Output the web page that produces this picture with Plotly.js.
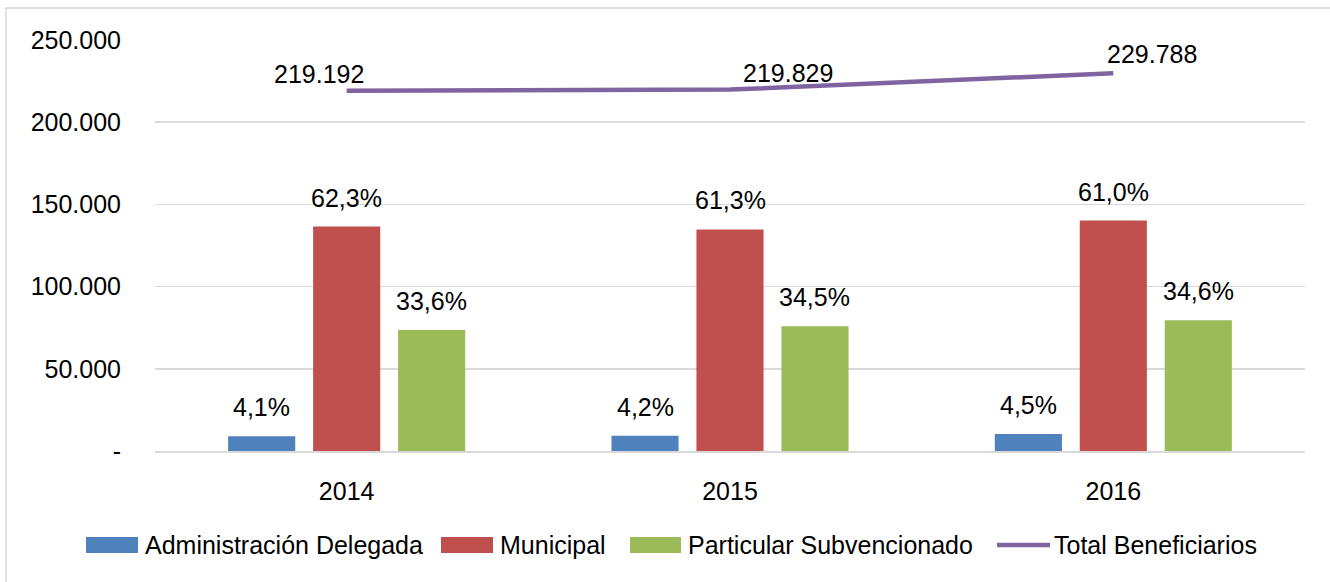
<!DOCTYPE html>
<html>
<head>
<meta charset="utf-8">
<script src="https://cdn.plot.ly/plotly-3.0.1.min.js"></script>
<style>html,body{margin:0;padding:0;background:#fff;}#chart{width:1330px;height:582px;}</style>
</head>
<body>
<div id="chart"></div>
<script>
const years = ['2014', '2015', '2016'];
const adminDelegada = [8987, 9233, 10340];
const municipal = [136557, 134755, 140171];
const particular = [73648, 75841, 79507];
const total = [219192, 219829, 229788];
const pctAdmin = ['4,1%', '4,2%', '4,5%'];
const pctMunicipal = ['62,3%', '61,3%', '61,0%'];
const pctParticular = ['33,6%', '34,5%', '34,6%'];
const totalLabels = ['219.192', '219.829', '229.788'];
const seriesNames = ['Administración Delegada', 'Municipal', 'Particular Subvencionado', 'Total Beneficiarios'];
const seriesColors = ['#4F81BD', '#C0504D', '#9BBB59', '#8064A2'];
const yTickVals = [0, 50000, 100000, 150000, 200000, 250000];
const yTickText = ['-', '50.000', '100.000', '150.000', '200.000', '250.000'];

const FONT = 'Liberation Sans, Arial, sans-serif';
const FS = 25;
const W = 1330, H = 582;
const margin = {l: 155, r: 25, t: 40, b: 131, pad: 0};
const plotW = W - margin.l - margin.r;
const plotH = H - margin.t - margin.b;
const bargap = 0.335;
const slot = plotW / years.length * (1 - bargap) / 3;
const px = x => (x - margin.l) / plotW;          // pixel x -> paper
const py = y => (margin.t + plotH - y) / plotH;   // pixel y -> paper

const traces = [
  {type: 'bar', name: seriesNames[0], x: years, y: adminDelegada, marker: {color: seriesColors[0]}, hoverinfo: 'none'},
  {type: 'bar', name: seriesNames[1], x: years, y: municipal, marker: {color: seriesColors[1]}, hoverinfo: 'none'},
  {type: 'bar', name: seriesNames[2], x: years, y: particular, marker: {color: seriesColors[2]}, hoverinfo: 'none'},
  {type: 'scatter', mode: 'lines', name: seriesNames[3], x: years, y: total, line: {color: seriesColors[3], width: 4.5}, hoverinfo: 'none'}
];

const annotations = [];
const barSeries = [[adminDelegada, pctAdmin, -1], [municipal, pctMunicipal, 0], [particular, pctParticular, 1]];
barSeries.forEach(([vals, labels, k]) => {
  years.forEach((yr, i) => {
    annotations.push({x: i, y: vals[i], text: labels[i], showarrow: false, xshift: k * slot, yshift: 29,
      yanchor: 'middle', xanchor: 'center', font: {family: FONT, size: FS, color: '#000'}});
  });
});
const totXShift = [-28, 58, 39];
const totYShift = [17, 17, 19];
years.forEach((yr, i) => {
  annotations.push({x: i, y: total[i], text: totalLabels[i], showarrow: false, xshift: totXShift[i], yshift: totYShift[i],
    yanchor: 'middle', xanchor: 'center', font: {family: FONT, size: FS, color: '#000'}});
});

// custom legend (layout only)
const legendY = 545;
const legendItems = [
  {kind: 'rect', x0: 86, x1: 138, tx: 143},
  {kind: 'rect', x0: 441, x1: 493, tx: 498},
  {kind: 'rect', x0: 630, x1: 681, tx: 686},
  {kind: 'line', x0: 997, x1: 1050, tx: 1052}
];
const shapes = [{type: 'rect', xref: 'paper', yref: 'paper', x0: px(6), x1: 1.05, y0: -0.4, y1: py(8),
  line: {color: '#D9D9D9', width: 1.5}, fillcolor: 'rgba(0,0,0,0)', layer: 'below'}];
legendItems.forEach((it, k) => {
  if (it.kind === 'rect') {
    shapes.push({type: 'rect', xref: 'paper', yref: 'paper', x0: px(it.x0), x1: px(it.x1), y0: py(legendY + 8), y1: py(legendY - 8),
      fillcolor: seriesColors[k], line: {width: 0}});
  } else {
    shapes.push({type: 'line', xref: 'paper', yref: 'paper', x0: px(it.x0), x1: px(it.x1), y0: py(legendY), y1: py(legendY),
      line: {color: seriesColors[k], width: 4.5}});
  }
  annotations.push({xref: 'paper', yref: 'paper', x: px(it.tx), y: py(legendY), text: seriesNames[k], showarrow: false,
    xanchor: 'left', yanchor: 'middle', font: {family: FONT, size: FS, color: '#000'}});
});

const layout = {
  width: W, height: H,
  margin: margin,
  paper_bgcolor: '#fff', plot_bgcolor: '#fff',
  font: {family: FONT, size: FS, color: '#000'},
  barmode: 'group', bargap: bargap, bargroupgap: 0.21,
  showlegend: false,
  xaxis: {type: 'category', range: [-0.5, 2.5], showgrid: false, showline: true, linecolor: '#D9D9D9', linewidth: 2,
    ticks: '', tickfont: {family: FONT, size: FS}, ticklabelstandoff: 17, fixedrange: true},
  yaxis: {range: [0, 250000], tickvals: yTickVals, ticktext: yTickText, showgrid: true, gridcolor: '#D9D9D9', gridwidth: 1.5,
    zeroline: false, showline: false, ticks: '', tickfont: {family: FONT, size: FS}, ticklabelstandoff: 33, fixedrange: true},
  annotations: annotations,
  shapes: shapes
};

Plotly.newPlot('chart', traces, layout, {displayModeBar: false, staticPlot: true});
</script>
</body>
</html>
